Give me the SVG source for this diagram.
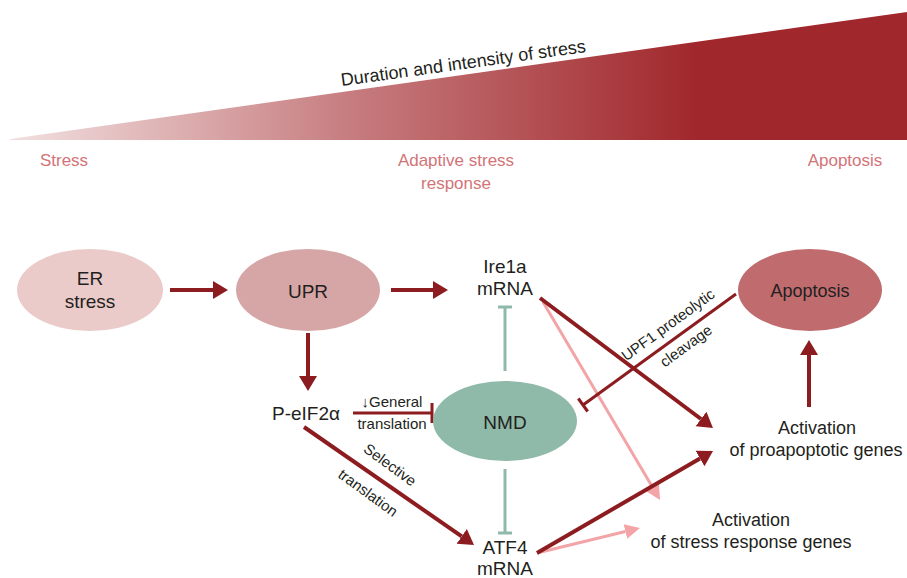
<svg xmlns="http://www.w3.org/2000/svg" width="907" height="578" viewBox="0 0 907 578">
<defs>
<linearGradient id="g" gradientUnits="userSpaceOnUse" x1="10" y1="0" x2="700" y2="0">
<stop offset="0" stop-color="#f2e0e0"/>
<stop offset="0.5" stop-color="#c67b7e"/>
<stop offset="1" stop-color="#a0272b"/>
</linearGradient>
<marker id="ad" markerUnits="userSpaceOnUse" markerWidth="16" markerHeight="20" refX="0" refY="10" orient="auto"><path d="M0,1 L15,10 L0,19 z" fill="#8c1c1f"/></marker>
<marker id="ap" markerUnits="userSpaceOnUse" markerWidth="16" markerHeight="18" refX="0" refY="9" orient="auto"><path d="M0,1.5 L15,9 L0,16.5 z" fill="#f2a4a7"/></marker>
</defs>
<style>
text{font-family:"Liberation Sans",Arial,sans-serif;fill:#231f20}
.n{font-size:19px;text-anchor:middle}
.l{font-size:18px;text-anchor:middle}
.s{font-size:15px;text-anchor:middle}
.top{font-size:17px;fill:#d27477;text-anchor:middle}
.d{stroke:#8c1c1f;stroke-width:4;fill:none}
.p{stroke:#f2a4a7;stroke-width:3;fill:none}
.t{stroke:#8fb9a8;stroke-width:3;fill:none}
.i{stroke:#8c1c1f;stroke-width:3;fill:none}
</style>
<g id="scale">
<polygon points="10,139 907,12 907,140 10,140" fill="url(#g)"/>
<text x="464" y="69" font-size="18" text-anchor="middle" transform="rotate(-7.95 464 69)">Duration and intensity of stress</text>
<text class="top" x="64" y="166">Stress</text>
<text class="top" x="456" y="166">Adaptive stress</text>
<text class="top" x="456" y="189">response</text>
<text class="top" x="845" y="166">Apoptosis</text>
</g>
<g id="connectors">
<line class="d" x1="170" y1="290" x2="213" y2="290" marker-end="url(#ad)"/>
<line class="d" x1="391" y1="290" x2="433" y2="290" marker-end="url(#ad)"/>
<line class="d" x1="308" y1="333" x2="308" y2="376" marker-end="url(#ad)"/>
<line class="d" x1="304" y1="427" x2="461.7" y2="536.4" marker-end="url(#ad)"/>
<line class="p" x1="543" y1="302" x2="652.4" y2="487.1" marker-end="url(#ap)"/>
<line class="p" x1="537" y1="553" x2="625.4" y2="531.5" marker-end="url(#ap)"/>
<line class="d" x1="540" y1="298" x2="701" y2="419" marker-end="url(#ad)"/>
<line class="d" x1="537" y1="553" x2="700" y2="458.5" marker-end="url(#ad)"/>
<line class="d" x1="809" y1="407" x2="809" y2="355" marker-end="url(#ad)"/>
<line class="i" x1="353" y1="413" x2="431" y2="413"/>
<line class="i" x1="432" y1="403" x2="432" y2="423"/>
<line class="t" x1="505" y1="371" x2="505" y2="307"/>
<line class="t" x1="498" y1="307" x2="512" y2="307"/>
<line class="t" x1="505" y1="469" x2="505" y2="533"/>
<line class="t" x1="498" y1="533" x2="512" y2="533"/>
<line class="i" x1="736" y1="294" x2="583" y2="405"/>
<line class="i" x1="578.3" y1="398.5" x2="587.7" y2="411.5"/>
<text class="s" x="392" y="407">↓General</text>
<text class="s" x="392" y="429">translation</text>
<text class="s" transform="translate(387 469) rotate(36)">Selective</text>
<text class="s" transform="translate(365 497) rotate(36)">translation</text>
<text class="s" transform="translate(671 329) rotate(-36)">UPF1 proteolytic</text>
<text class="s" transform="translate(689 350) rotate(-36)">cleavage</text>
</g>
<g id="er"><ellipse cx="90" cy="290" rx="73" ry="41" fill="#ebcaca"/><text class="n" x="90" y="285">ER</text><text class="n" x="90" y="308">stress</text></g>
<g id="upr"><ellipse cx="308" cy="290" rx="72" ry="41" fill="#d6a6a6"/><text class="n" x="308" y="298">UPR</text></g>
<g id="ire1a"><text class="n" x="505" y="273">Ire1a</text><text class="n" x="505" y="295">mRNA</text></g>
<g id="peif2a"><text class="n" x="306" y="420">P-eIF2α</text></g>
<g id="nmd"><ellipse cx="505" cy="421" rx="72" ry="40" fill="#8fb9a8"/><text class="n" x="505" y="429">NMD</text></g>
<g id="atf4"><text class="n" x="505" y="554">ATF4</text><text class="n" x="505" y="575">mRNA</text></g>
<g id="apoptosis"><ellipse cx="810" cy="290" rx="72" ry="41" fill="#c06c6f"/><text class="l" x="810" y="297">Apoptosis</text></g>
<g id="proapoptotic"><text class="l" x="817" y="434">Activation</text><text class="l" x="816" y="456">of proapoptotic genes</text></g>
<g id="stressgenes"><text class="l" x="751" y="526">Activation</text><text class="l" x="751" y="548">of stress response genes</text></g>
</svg>
